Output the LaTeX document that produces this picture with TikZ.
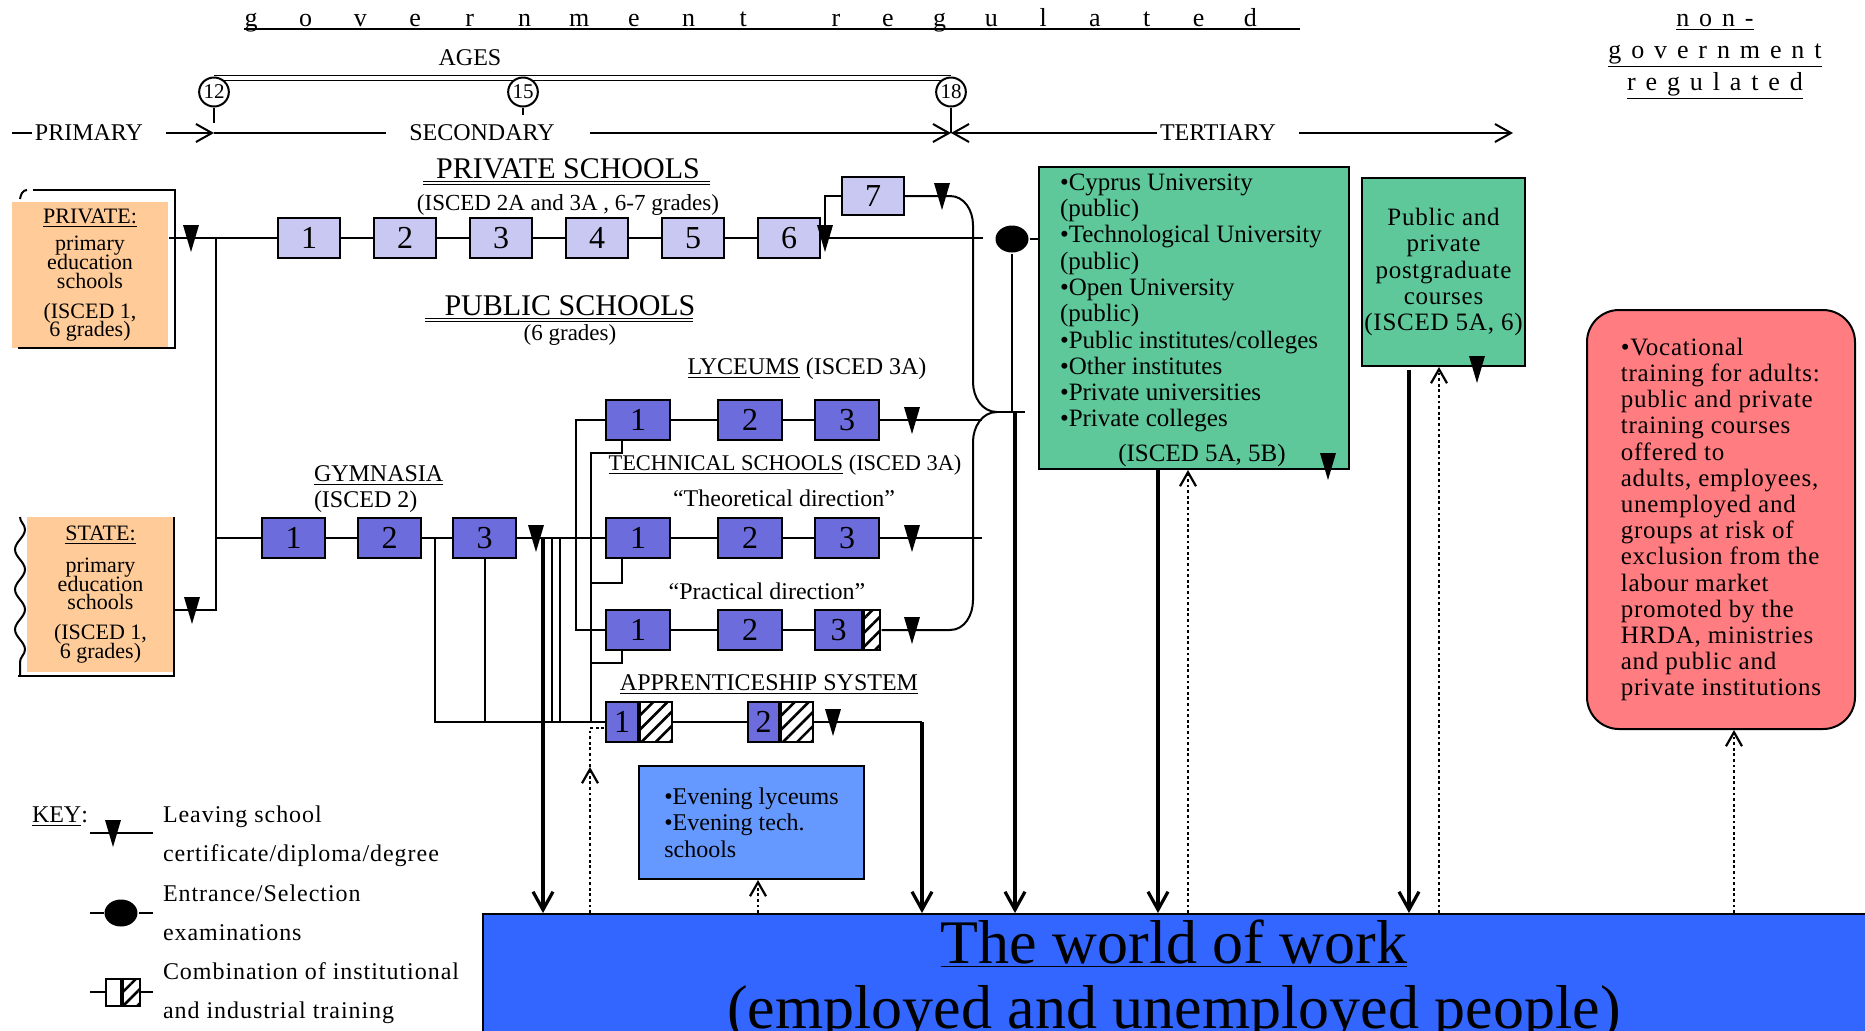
\documentclass[tikz,border=0pt]{standalone}
\usepackage{fontspec}
\setmainfont{Liberation Serif}
\usetikzlibrary{positioning, arrows.meta, shapes.geometric, patterns.meta, decorations.pathmorphing}

\definecolor{orangefill}{RGB}{255,204,153}
\definecolor{privfill}{RGB}{200,200,242}
\definecolor{pubfill}{RGB}{108,108,220}
\definecolor{greenfill}{RGB}{94,200,155}
\definecolor{redfill}{RGB}{255,124,128}
\definecolor{evefill}{RGB}{102,153,255}
\definecolor{workfill}{RGB}{51,102,255}

% 修了証のマーク（下向きの三角）
\tikzset{leave/.pic={\fill (-8,-13) -- (8,-13) -- (0,14) -- cycle;}}

\begin{document}
\lineskiplimit=-100pt
\begin{tikzpicture}[
    x=0.5pt, y=-0.5pt,      % 1単位 = 元画像の1ピクセル
    line width=1pt,
    >={Straight Barb[length=8pt,width=9pt]},
    font=\fontsize{12}{13}\selectfont,
    privbox/.style={draw, fill=privfill, minimum width=31pt, minimum height=20pt, inner sep=0pt, font=\fontsize{16}{16}\selectfont},
    pubbox/.style={privbox, fill=pubfill, minimum width=32pt},
    hatchbox/.style={draw, inner sep=0pt, minimum height=20pt, preaction={fill=white}, pattern={Lines[angle=45,distance=5pt,line width=1.3pt]}},
    orangebox/.style={fill=orangefill, align=center, inner sep=0pt, font=\fontsize{11}{9.3}\selectfont},
    greenbox/.style={draw, fill=greenfill, inner sep=0pt, font=\fontsize{12.5}{13.1}\selectfont},
    listtxt/.style={align=left, inner sep=0pt, font=\fontsize{12.5}{13.15}\selectfont},
    agecirc/.style={ellipse, draw, fill=white, inner sep=0pt, minimum width=13pt, minimum height=14.5pt, font=\fontsize{10.5}{10}\selectfont},
    exam/.style={ellipse, fill=black, inner sep=0pt, minimum width=16.5pt, minimum height=13.5pt},
    bigarrow/.style={line width=2.4pt, -{Straight Barb[length=9pt,width=10pt,line width=1.6pt]}},
    dotline/.style={line width=1.4pt, dash pattern=on 1.4pt off 1.4pt},
    dotarrow/.style={dotline, -{Straight Barb[length=7pt,width=8pt,line width=1.1pt]}},
    govletter/.style={anchor=base, inner sep=0pt, font=\fontsize{13}{13}\selectfont},
    secttitle/.style={anchor=base, inner sep=0pt, font=\fontsize{15}{15}\selectfont},
    smalltxt/.style={font=\fontsize{11.5}{13}\selectfont},
    worldtxt/.style={anchor=base, inner sep=0pt, font=\fontsize{31}{31}\selectfont}
]
    \useasboundingbox (0,0) rectangle (1865,1030);
    \clip (0,0) rectangle (1865,1030);

    % --- 労働の世界 ---
    \node[draw, fill=workfill, anchor=north west, minimum width=700pt, minimum height=70pt, inner sep=0pt] (work) at (482,913) {};
    \node[worldtxt] (worktitle) at (1174,963) {\underline{The world of work}};
    \node[worldtxt] (worksub) at (1174,1028) {(employed and unemployed people)};

    % --- 見出し ---
    \foreach \ch [count=\i] in {g,o,v,e,r,n,m,e,n,t}
        \node[govletter] (gov\i) at ({251+54.7*(\i-1)},26) {\ch};
    \foreach \ch [count=\i] in {r,e,g,u,l,a,t,e,d}
        \node[govletter] (reg\i) at ({836+51.8*(\i-1)},26) {\ch};
    \draw (244,29) -- (1300,29);
    \node[align=center, font=\fontsize{13}{16}\selectfont\addfontfeatures{LetterSpace=38}] (nongov) at (1715,57)
        {\underline{non-}\\\underline{government}\\\underline{regulated}};

    % --- 年齢 ---
    \node (ages) at (470,58) {AGES};
    \draw[double, double distance=1.6pt, line width=0.7pt] (214,78) -- (951,78);
    \node[agecirc] (a12) at (214,92) {12};
    \node[agecirc] (a15) at (523,92) {15};
    \node[agecirc] (a18) at (951,92) {18};

    % --- PRIMARY / SECONDARY / TERTIARY ---
    \coordinate (t0) at (12,133);
    \coordinate (t12) at (214,133);
    \coordinate (t18) at (951,133);
    \coordinate (tend) at (1513,133);
    \node[inner sep=1pt] (prim) at (89,133) {PRIMARY};
    \node[inner sep=1pt] (sec) at (482,133) {SECONDARY};
    \node[inner sep=1pt] (ter) at (1218,133) {TERTIARY};
    \draw (t0) -- (prim.west);
    \draw[->] ([xshift=10pt]prim.east) -- (t12);
    \draw (t12) -- ([xshift=-10pt]sec.west);
    \draw[->] ([xshift=16pt]sec.east) -- (t18);
    \draw[->] (ter.west) -- (t18);
    \draw[->] ([xshift=10pt]ter.east) -- (tend);
    \draw (a12.south) -- (214,123);
    \draw (a15.south) -- (523,115);
    \draw (a18.south) -- (t18);

    % --- 小学校 ---
    \node[orangebox, minimum width=78pt, minimum height=73pt] (priv) at (90,275)
        {\underline{PRIVATE:}\\[4.7pt]primary\\education\\schools\\[5.7pt](ISCED 1,\\6 grades)};
    \draw (33,190) -- (175,190) -- (175,348) -- (18,348);
    \draw (27,190) to[out=180,in=80] (20,199);
    \node[orangebox, minimum width=73.5pt, minimum height=77.5pt] (state) at (100.5,594.5)
        {\underline{STATE:}\\[6.7pt]primary\\education\\schools\\[5.7pt](ISCED 1,\\6 grades)};
    \draw (174,517) -- (174,676) -- (18,676);
    \draw[decorate, decoration={snake, amplitude=2.5pt, segment length=20pt}] (20,517) -- (20,676);

    % --- 私立中等学校 ---
    \node[secttitle] (privtitle) at (568,178) {PRIVATE SCHOOLS};
    \draw[double, double distance=1pt, line width=0.5pt] ([xshift=-6pt,yshift=-2.5pt]privtitle.base west) -- ([xshift=4.5pt,yshift=-2.5pt]privtitle.base east);
    \node[smalltxt] (privsub) at (568,205) {(ISCED 2A and 3A , 6-7 grades)};

    \node[privbox] (pr1) at (309,238) {1};
    \node[privbox, right=16pt of pr1] (pr2) {2};
    \node[privbox, right=16pt of pr2] (pr3) {3};
    \node[privbox, right=16pt of pr3] (pr4) {4};
    \node[privbox, right=16pt of pr4] (pr5) {5};
    \node[privbox, right=16pt of pr5] (pr6) {6};
    \node[privbox, minimum height=19pt] (pr7) at (873,196) {7};

    \coordinate (pj) at (216,238);
    \coordinate (p7j) at (825,238);
    \coordinate (pend) at (983,238);
    \draw (priv.east |- pr1) -- (pj) -- (pr1);
    \foreach \a/\b in {pr1/pr2, pr2/pr3, pr3/pr4, pr4/pr5, pr5/pr6}
        \draw (\a) -- (\b);
    \draw (pr6) -- (p7j) -- (pend);
    \draw (p7j) |- (pr7);
    \pic at (191,238) {leave};
    \pic at (p7j) {leave};

    % --- 公立学校 ---
    \node[secttitle] (pubtitle) at (570,315) {PUBLIC SCHOOLS};
    \draw[double, double distance=1pt, line width=0.5pt] ([xshift=-9.5pt,yshift=-2.5pt]pubtitle.base west) -- ([xshift=-1.5pt,yshift=-2.5pt]pubtitle.base east);
    \node[smalltxt] (pubsub) at (570,335) {(6 grades)};

    % ギムナジウム
    \node[anchor=west, align=left, inner sep=0pt] (gymlbl) at (313,489) {\underline{GYMNASIA}\\(ISCED 2)};
    \node[pubbox, minimum width=31.5pt] (gy1) at (293.5,538) {1};
    \node[pubbox, minimum width=31.5pt, right=15.5pt of gy1] (gy2) {2};
    \node[pubbox, minimum width=31.5pt, right=15pt of gy2] (gy3) {3};

    % リセウム
    \node (lylbl) at (807,369) {\underline{LYCEUMS} (ISCED 3A)};
    \node[pubbox] (ly1) at (638,420) {1};
    \node[pubbox, right=23pt of ly1] (ly2) {2};
    \node[pubbox, right=15.5pt of ly2] (ly3) {3};

    % 技術学校
    \node[font=\fontsize{11.2}{13}\selectfont] (techlbl) at (785,465) {\underline{TECHNICAL SCHOOLS} (ISCED 3A)};
    \node (theolbl) at (784,498) {“Theoretical direction”};
    \node[pubbox] (th1) at (638,538) {1};
    \node[pubbox, right=23pt of th1] (th2) {2};
    \node[pubbox, right=15.5pt of th2] (th3) {3};
    \node (praclbl) at (767,591) {“Practical direction”};
    \node[pubbox] (pc1) at (638,630) {1};
    \node[pubbox, right=23pt of pc1] (pc2) {2};
    \node[pubbox, minimum width=23.5pt, right=15.5pt of pc2] (pc3) {3};
    \node[hatchbox, minimum width=8pt, right=0pt of pc3] (pc3h) {};

    % 見習い制度
    \node (aplbl) at (769,685) {\underline{APPRENTICESHIP SYSTEM}};
    \node[pubbox, minimum width=16pt] (ap1) at (622,722) {1};
    \node[hatchbox, minimum width=16pt, right=0pt of ap1] (ap1h) {};
    \node[pubbox, minimum width=15.5pt] (ap2) at (763.5,722) {2};
    \node[hatchbox, minimum width=16pt, right=0pt of ap2] (ap2h) {};

    % --- 公立学校の線 ---
    \coordinate (gj) at (216,538);
    \coordinate (sj) at (216,610);
    \draw (pj) -- (sj) -- (sj -| state.east);
    \pic at (192,610) {leave};
    \draw (gj) -- (gy1) -- (gy2) -- (gy3) -- (th1);
    \pic at (536,538) {leave};

    \coordinate (g2j) at (435,538);
    \coordinate (ajl) at (435,722);
    \draw (g2j) -- (ajl) -- (ap1);
    \draw (gy3.south) -- (gy3.south |- ajl);
    \draw (552,538) -- (552,722);
    \draw (560,538) -- (560,722);
    \coordinate (lj) at (576,420);
    \coordinate (cj) at (576,630);
    \draw (ly1) -- (lj) -- (cj) -- (pc1);
    \coordinate (hk) at (591,722);
    \draw ([xshift=-8pt]ly1.south) |- (591,453) -- (hk);
    \draw ([xshift=-8pt]th1.south) |- (591,583);
    \draw ([xshift=-8pt]pc1.south) |- (591,663);

    \draw (ly1) -- (ly2) -- (ly3) -- (982,420);
    \pic at (912,420) {leave};
    \draw (th1) -- (th2) -- (th3) -- (982,538);
    \pic at (912,538) {leave};
    \draw (pc1) -- (pc2) -- (pc3);
    \pic at (912,630) {leave};
    \draw (ap1h) -- (ap2);
    \coordinate (apdown) at (922,722);
    \draw (ap2h) -- (apdown);
    \pic at (833,722) {leave};

    % --- 括弧状の合流線 ---
    \coordinate (tip) at (997,412);
    \draw (pr7) -- (950,196) to[out=0,in=90] (973,225) -- (973,382) to[out=-90,in=180] (tip);
    \draw (tip) to[out=180,in=90] (973,442) -- (973,600) to[out=-90,in=0] (950,630) -- (pc3h);
    \pic at (942,196) {leave};

    % --- 入学試験 ---
    \node[exam] (exam) at (1012,239) {};

    % --- 高等教育 ---
    \node[greenbox, minimum width=155pt, minimum height=151pt] (uni) at (1194,318) {};
    \node[listtxt, anchor=west] (unilist) at (1059,303)
        {•Cyprus University\\(public)\\•Technological University\\(public)\\•Open University\\(public)\\•Public institutes/colleges\\•Other institutes\\•Private universities\\•Private colleges};
    \node[font=\fontsize{12.5}{13}\selectfont] (uniisced) at (1202,455) {(ISCED 5A, 5B)};
    \pic at (1328,466) {leave};

    \node[greenbox, minimum width=81.5pt, minimum height=94pt, align=center,
          font=\fontsize{12.5}{13.1}\selectfont\addfontfeatures{LetterSpace=3}] (post) at (1443.5,272)
        {Public and\\private\\postgraduate\\courses\\(ISCED 5A, 6)};
    \pic at (1477,369) {leave};

    \draw (exam) -- (uni.west |- exam);
    \draw (exam) -- (exam |- tip);
    \draw (tip) -- (1025,412);

    % --- 成人向け職業訓練 ---
    \node[draw, fill=redfill, rounded corners=16pt, minimum width=134pt, minimum height=209.5pt, align=left, inner sep=0pt,
          font=\fontsize{12.5}{13.1}\selectfont\addfontfeatures{LetterSpace=3}] (adult) at (1721,519.5)
        {•Vocational\\training for adults:\\public and private\\training courses\\offered to\\adults, employees,\\unemployed and\\groups at risk of\\exclusion from the\\labour market\\promoted by the\\HRDA, ministries\\and public and\\private institutions};

    % --- 夜間学校 ---
    \node[draw, fill=evefill, minimum width=112.5pt, minimum height=56.5pt, align=left, inner sep=0pt,
          font=\fontsize{12}{13.3}\selectfont] (evening) at (751.5,822.5)
        {•Evening lyceums\\•Evening tech.\\schools};

    % --- 労働の世界への矢印 ---
    \coordinate (gydown) at (543,538);
    \coordinate (exdown) at (1015,412);
    \draw[bigarrow] (gydown) -- (gydown |- work.north);
    \draw[bigarrow] (apdown) -- (apdown |- work.north);
    \draw[bigarrow] (exdown) -- (exdown |- work.north);
    \draw[bigarrow] (uni.south -| 1158,0) -- (1158,0 |- work.north);
    \draw[bigarrow] (1409,370) -- (1409,0 |- work.north);

    \draw[dotarrow] (590,0 |- work.north) -- (590,767);
    \draw[dotline] (590,767) -- (590,728) -- ([yshift=-3pt]ap1.west);
    \draw[dotarrow] (758,0 |- work.north) -- (758,0 |- evening.south);
    \draw[dotarrow] (1188,0 |- work.north) -- (1188,0 |- uni.south);
    \draw[dotarrow] (1439,0 |- work.north) -- (1439,0 |- post.south);
    \draw[dotarrow] (1734,0 |- work.north) -- (1734,0 |- adult.south);

    % --- 凡例 ---
    \node (keylbl) at (60,817) {\underline{KEY}:};
    \draw (90,833) -- (153,833);
    \pic at (113,833) {leave};
    \node[exam] (keyexam) at (121,913) {};
    \draw (90,913) -- (keyexam) -- (153,913);
    \node[draw, fill=white, minimum width=7.5pt, minimum height=13.5pt, inner sep=0pt] (keybox) at (113.5,992) {};
    \node[hatchbox, minimum width=8.5pt, minimum height=13.5pt, right=0pt of keybox] (keyhatch) {};
    \draw (90,992) -- (keybox);
    \draw (keyhatch) -- (153,992);
    \node[anchor=west, align=left, inner sep=0pt,
          font=\fontsize{12}{19.6}\selectfont\addfontfeatures{LetterSpace=4}] (keytext) at (162,915)
        {Leaving school\\certificate/diploma/degree\\Entrance/Selection\\examinations\\Combination of institutional\\and industrial training};

\end{tikzpicture}
\end{document}
